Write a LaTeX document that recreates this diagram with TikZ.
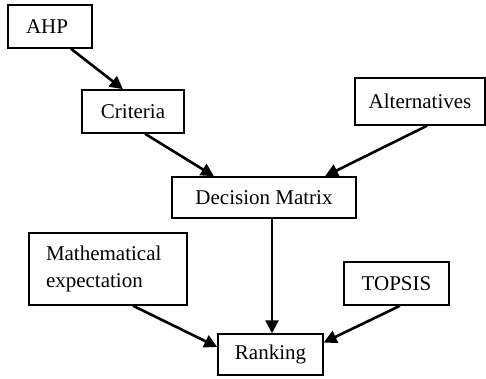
\documentclass[tikz,border=0pt]{standalone}
\usepackage{fontspec}
\setmainfont{Liberation Serif}
\usetikzlibrary{arrows.meta}
\begin{document}
\begin{tikzpicture}[x=1pt,y=-1pt,
    caja/.style={draw, line width=1.5pt, inner sep=0pt, font=\fontsize{21}{27}\selectfont},
    flecha/.style={line width=2.6pt, -{Triangle[length=13pt,width=13pt]}}]
    \useasboundingbox (0,0) rectangle (486,379);

    % Cajas
    \foreach \nombre/\x/\y/\w/\h/\val in {
        crit/133/111.5/102/43/Criteria,
        alt/420/101.5/130/47/Alternatives,
        dm/264/197.5/184/41/Decision Matrix,
        top/396.5/283.5/105/43/TOPSIS,
        rank/270.5/354.5/105/41/Ranking
        } {
        \node[caja, minimum width=\w pt, minimum height=\h pt] (\nombre) at (\x,\y) {\val};
    }
    \node[caja, minimum width=84pt, minimum height=43pt, text width=48pt, align=left] (ahp) at (50,26.5) {AHP};
    \node[caja, minimum width=158pt, minimum height=72pt, text width=124pt, align=left] (mat) at (108,269)
        {Mathematical\\expectation};

    % Flechas
    \draw[flecha] ([xshift=21pt]ahp.south) -- ([xshift=-10pt]crit.north);
    \draw[flecha] ([xshift=12pt]crit.south) -- ([xshift=-50pt]dm.north);
    \draw[flecha] ([xshift=7pt]alt.south) -- ([xshift=61pt]dm.north);
    \draw[flecha] ([xshift=8pt]dm.south) -- ([xshift=8pt]dm.south |- rank.north);
    \draw[flecha] ([xshift=25pt]mat.south) -- ([yshift=7.5pt]rank.west);
    \draw[flecha] ([xshift=3.5pt]top.south) -- ([yshift=12pt]rank.east);
\end{tikzpicture}
\end{document}
